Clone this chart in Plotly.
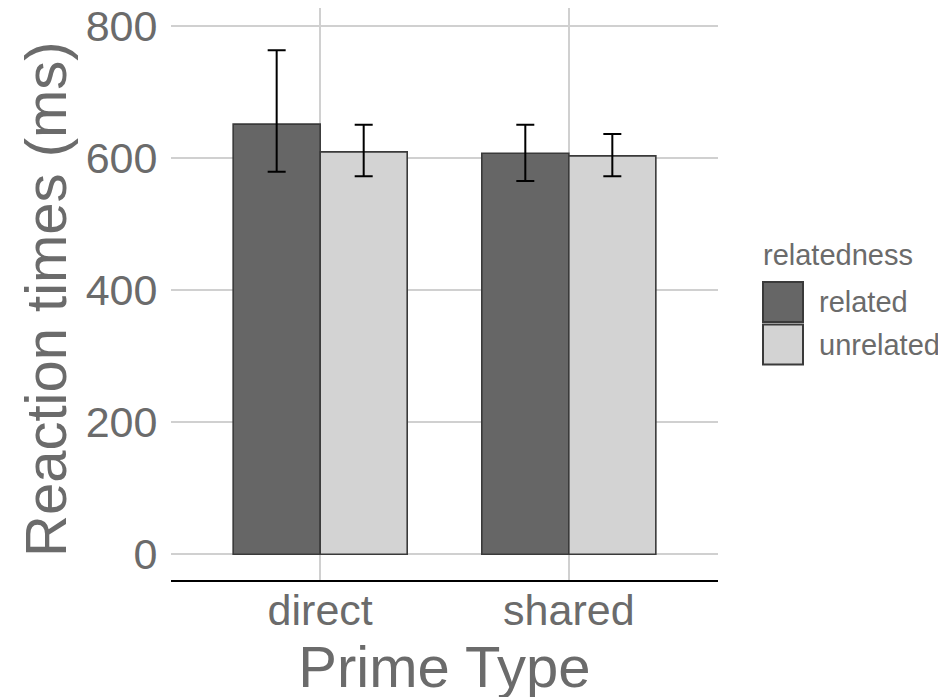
import plotly.graph_objects as go

prime_types = ["direct", "shared"]
relatedness_levels = ["related", "unrelated"]
related_means = [651, 607]
unrelated_means = [609, 603]
related_upper = [763, 650]
related_lower = [579, 565]
unrelated_upper = [650, 636]
unrelated_lower = [572, 572]
y_ticks = [0, 200, 400, 600, 800]

fills = {"related": "#666666", "unrelated": "#d3d3d3"}
edge = "#3a3a3a"
text_col = "#6b6b6b"
FONT = "Liberation Sans, Arial, sans-serif"

series = {
    "related": (related_means, related_upper, related_lower),
    "unrelated": (unrelated_means, unrelated_upper, unrelated_lower),
}

fig = go.Figure()
for lvl in relatedness_levels:
    m, up, lo = series[lvl]
    fig.add_trace(go.Bar(
        x=prime_types, y=m, name=lvl,
        marker=dict(color=fills[lvl], line=dict(color=edge, width=1.6)),
        error_y=dict(type="data", symmetric=False,
                     array=[u - v for u, v in zip(up, m)],
                     arrayminus=[v - l for v, l in zip(m, lo)],
                     color="black", thickness=2, width=9),
        showlegend=False,
    ))

# page body has an 8px offset; margins compensate for it
W, H = 946, 697
OFF = 8
pl, pr, pt, pb = 171 - OFF, 236, 0, 125
pw, ph = W - pl - pr, H - pt - pb

fig.update_layout(
    width=W, height=H,
    margin=dict(l=pl, r=pr, t=pt, b=pb, autoexpand=False),
    paper_bgcolor="white", plot_bgcolor="white",
    barmode="group", bargap=0.3, bargroupgap=0,
    font=dict(family=FONT, color=text_col),
    xaxis=dict(
        type="category", range=[-0.6, 1.6], automargin=False,
        showgrid=True, gridcolor="#d0d0d0", gridwidth=2,
        showline=True, linecolor="black", linewidth=2,
        ticks="", ticklabelstandoff=-9,
        tickfont=dict(size=43, color=text_col),
        title=dict(text="Prime Type", font=dict(size=58, color=text_col), standoff=13),
        zeroline=False,
    ),
    yaxis=dict(
        range=[-38.9, 826.8], automargin=False,
        tickvals=y_ticks, ticklabeloverflow="allow",
        showgrid=True, gridcolor="#d0d0d0", gridwidth=2,
        showline=False, zeroline=False,
        ticks="outside", ticklen=4, tickcolor="rgba(0,0,0,0)",
        tickfont=dict(size=43, color=text_col),
    ),
)

def px2paper_x(wx):
    return (wx - OFF - pl) / pw
def px2paper_y(wy):
    return (H - pb - (wy - OFF)) / ph

# y-axis title (window pixel position)
fig.add_annotation(x=px2paper_x(45), y=px2paper_y(299), xref="paper", yref="paper",
                   text="Reaction times (ms)", textangle=-90, showarrow=False,
                   xanchor="center", yanchor="middle",
                   font=dict(size=58, color=text_col))

# legend (window pixel positions)
legend_x0 = 763
key = 40
fig.add_annotation(x=px2paper_x(761), y=px2paper_y(255), xref="paper", yref="paper",
                   text="relatedness", showarrow=False, xanchor="left", yanchor="middle",
                   font=dict(size=29, color=text_col))
for i, lvl in enumerate(relatedness_levels):
    y0 = 282 + i * 42.5
    fig.add_shape(type="rect", xref="paper", yref="paper",
                  x0=px2paper_x(legend_x0), x1=px2paper_x(legend_x0 + key),
                  y0=px2paper_y(y0), y1=px2paper_y(y0 + key),
                  fillcolor=fills[lvl], line=dict(color=edge, width=2))
    fig.add_annotation(x=px2paper_x(817), y=px2paper_y(y0 + key / 2),
                       xref="paper", yref="paper", text=lvl,
                       showarrow=False, xanchor="left", yanchor="middle",
                       font=dict(size=29, color=text_col))

fig.write_html("out.html")
